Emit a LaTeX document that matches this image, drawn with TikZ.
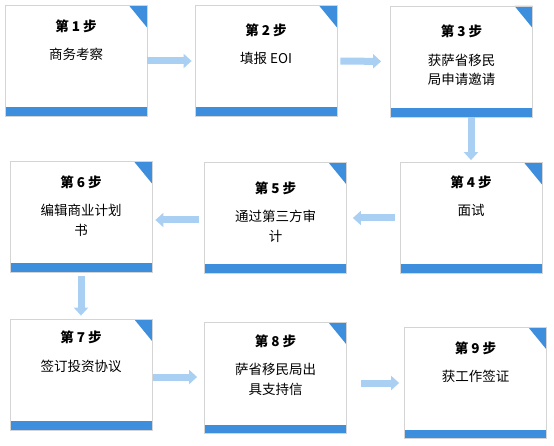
\documentclass[tikz,border=0pt]{standalone}
\usepackage{fontspec}
\setmainfont{Noto Sans CJK SC}
\usetikzlibrary{positioning,arrows.meta}
\definecolor{barblue}{HTML}{3E8EDE}
\definecolor{arrblue}{HTML}{A9D0F3}
\definecolor{edgegray}{HTML}{D4D4D4}

\begin{document}
\begin{tikzpicture}[x=1pt, y=-1pt,
  stepbox/.style={draw=edgegray, line width=0.8pt, minimum width=142pt,
                  minimum height=111pt, inner sep=0pt,
                  path picture={
                    \fill[barblue] (path picture bounding box.south west)
                      rectangle ([yshift=9pt]path picture bounding box.south east);
                    \fill[barblue] ([xshift=-18pt]path picture bounding box.north east)
                      -- (path picture bounding box.north east)
                      -- ([yshift=-22pt]path picture bounding box.north east) -- cycle;}},
  title/.style={font=\bfseries\fontsize{13.5}{15}\selectfont, inner sep=0pt},
  body/.style={font=\fontsize{13.5}{19.5}\selectfont, align=center, anchor=north, inner sep=0pt},
  flow/.style={arrblue, line width=7pt, -{Triangle[length=8pt,width=14pt]}},
]
\fill[white] (0,0) rectangle (554,446);

% steps (last field: text offset from the box top)
\foreach \n/\x/\y/\t/\b/\d in {
  1/76/61/{第 1 步}/{商务考察}/0,
  2/266/61/{第 2 步}/{填报 EOI}/4,
  3/461.5/61.5/{第 3 步}/{获萨省移民\\局申请邀请}/5,
  4/471/218/{第 4 步}/{面试}/-1,
  5/275.5/218/{第 5 步}/{通过第三方审\\计}/5,
  6/81/217/{第 6 步}/{编辑商业计划\\书}/0,
  7/81/374.5/{第 7 步}/{签订投资协议}/-2,
  8/275.5/378/{第 8 步}/{萨省移民局出\\具支持信}/-2,
  9/475.5/383/{第 9 步}/{获工作签证}/0} {
  \node[stepbox] (s\n) at (\x,\y) {};
  \node[title] (t\n) at ([yshift=-21pt-\d pt]s\n.north) {\t};
  \node[body]  (b\n) at ([yshift=-43pt-\d pt]s\n.north) {\b};
}

% connectors
\draw[flow, shorten >=3pt] (s1.east) -- (s2.west);
\draw[flow, shorten <=3pt, shorten >=9pt] (s2.east) -- (s3.west);
\draw[flow, shorten >=2pt] (s3.south -| s4.north) -- (s4.north);
\draw[flow, shorten <=5pt, shorten >=6pt] (s4.west) -- (s5.east);
\draw[flow, shorten <=5pt, shorten >=3pt] ([yshift=-2pt]s5.west) -- ([yshift=-2pt]s5.west -| s6.east);
\draw[flow, shorten <=3pt, shorten >=3pt] (s6.south) -- (s7.north);
\draw[flow, shorten <=1pt, shorten >=7pt] ([yshift=-2.5pt]s7.east) -- ([yshift=-2.5pt]s7.east -| s8.west);
\draw[flow, shorten <=14pt, shorten >=5pt] (s8.east |- s9.west) -- (s9.west);
\end{tikzpicture}
\end{document}
